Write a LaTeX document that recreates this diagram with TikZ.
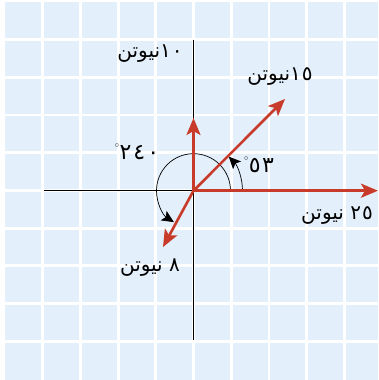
\documentclass[tikz,border=0pt]{standalone}
\usepackage{fontspec}
\newfontfamily\arabicfont[Script=Arabic]{DejaVu Sans}
\TeXXeTstate=1
\usetikzlibrary{arrows.meta}
\definecolor{bgblue}{RGB}{227,239,251}
\definecolor{vecred}{RGB}{200,58,42}
\newcommand{\dg}{\raisebox{8pt}{\fontsize{12}{12}\selectfont$^{\circ}$}}
\tikzset{
  vec/.style={draw=vecred,line width=2.6pt,-{Stealth[length=17pt,width=14pt,inset=4pt]}},
  axis/.style={draw=black,line width=1.1pt},
  anglearc/.style={draw=black,line width=0.7pt,-{Stealth[length=12pt,width=11pt,inset=2.5pt]}},
  lbl/.style={inner sep=0pt,font=\fontsize{20}{22}\selectfont\arabicfont},
  anglbl/.style={inner sep=0pt,font=\fontsize{22}{24}\selectfont\arabicfont},
}
\begin{document}
\begin{tikzpicture}[x=1pt,y=1pt]
\useasboundingbox (0,0) rectangle (378,380);
\fill[bgblue] (5,0) rectangle (378,378);
\foreach \k in {1,...,9} {
  \draw[white,line width=2.8pt] ({5+37.7*\k},0) -- ({5+37.7*\k},378);
  \draw[white,line width=2.8pt] (5,{378-37.7*\k}) -- (378,{378-37.7*\k});
}
\coordinate (O) at (193.5,189.3);
\coordinate (xl) at (44,189.3);
\coordinate (xr) at (337,189.3);
\coordinate (yt) at (193.5,340);
\coordinate (yb) at (193.5,40);
\coordinate (up) at (193.5,262);
\coordinate (f15) at (285,281);
\coordinate (f25) at (378,189.3);
\coordinate (f8) at (163,133);
\draw[axis] (xl) -- (xr);
\draw[axis] (yb) -- (yt);
\draw[anglearc] ([shift={(0:49)}]O) arc[start angle=0,end angle=44,radius=49];
\draw[anglearc] ([shift={(0:37)}]O) arc[start angle=0,end angle=238,radius=37];
\draw[vec] (O) -- (up);
\draw[vec] (O) -- (f15);
\draw[vec] (O) -- (f25);
\draw[vec] (O) -- (f8);
\node[lbl] (l10) at (150,326) {\beginR\beginL ١\kern1pt ٠\endL نیوتن\endR};
\node[lbl] (l15) at (280,303) {\beginR\beginL ١\kern1pt ٥\endL نیوتن\endR};
\node[lbl] (l25) at (337,164) {\beginR\beginL ٢\kern1pt ٥\endL{} نیوتن\endR};
\node[lbl] (l8) at (150,112) {\beginR\beginL ٨\endL{} نیوتن\endR};
\node[anglbl] (a240) at (137,228) {\dg\beginL ٢\kern2pt ٤\kern2pt ٠\endL};
\node[anglbl] (a53) at (259,215) {\dg\beginL ٥\kern1.5pt ٣\endL};
\end{tikzpicture}
\end{document}
